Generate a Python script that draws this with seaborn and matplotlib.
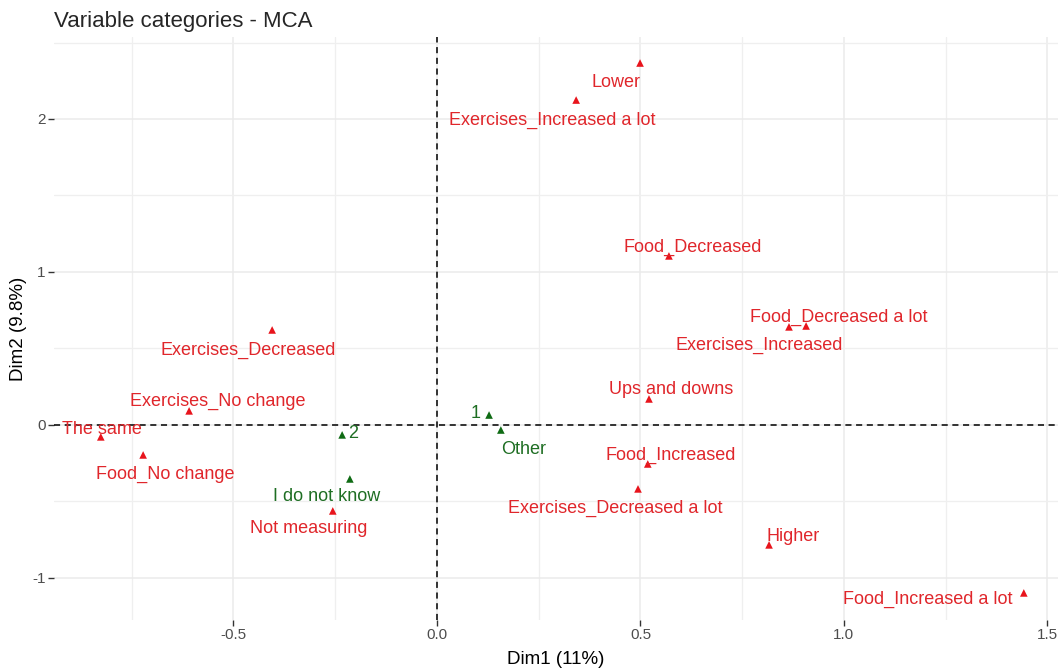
import pandas as pd
import matplotlib.pyplot as plt
import seaborn as sns
from matplotlib.ticker import MultipleLocator

sns.set_theme(style="whitegrid")
plt.rcParams['font.family'] = ['Liberation Sans', 'DejaVu Sans']

# MCA coordinates of the variable categories
labels = ['Lower', 'Exercises_Increased a lot', 'Food_Decreased', 'Food_Decreased a lot',
          'Exercises_Increased', 'Exercises_Decreased', 'Ups and downs', 'Exercises_No change',
          'The same', 'Food_No change', '1', 'Other', '2', 'I do not know', 'Not measuring',
          'Food_Increased', 'Exercises_Decreased a lot', 'Higher', 'Food_Increased a lot']
dim1 = [0.499, 0.342, 0.570, 0.907, 0.865, -0.405, 0.521, -0.609, -0.826, -0.722,
        0.128, 0.157, -0.233, -0.214, -0.256, 0.518, 0.494, 0.816, 1.442]
dim2 = [2.366, 2.124, 1.105, 0.647, 0.641, 0.621, 0.170, 0.092, -0.078, -0.196,
        0.065, -0.033, -0.065, -0.353, -0.562, -0.255, -0.418, -0.784, -1.098]
group = ['a', 'a', 'a', 'a', 'a', 'a', 'a', 'a', 'a', 'a',
         'b', 'b', 'b', 'b', 'a', 'a', 'a', 'a', 'a']

# label offsets in pixels (repel-like placement)
offsets = [(-24, -19), (-24, -20), (24, 9), (33, 9), (-30, -19), (-24, -20), (22, 9),
           (29, 9), (1, 7), (22, -19), (-13, 2), (23, -19), (11, 1), (-23, -18),
           (-24, -18), (23, 9), (-23, -20), (24, 8), (-96, -6)]

df = pd.DataFrame({'label': labels, 'Dim1': dim1, 'Dim2': dim2, 'group': group})
pal = {'a': '#E8141C', 'b': '#0F6B14'}
txt_col = {'a': '#E0262B', 'b': '#1E6E23'}

fig, ax = plt.subplots(figsize=(10.62, 6.70), dpi=100)
fig.subplots_adjust(left=54/1062, right=1058/1062, top=1-37/670, bottom=1-620/670)

ax.axhline(0, color='black', ls=(0, (4, 3)), lw=1.1, zorder=1)
ax.axvline(0, color='black', ls=(0, (4, 3)), lw=1.1, zorder=1)

sns.scatterplot(data=df, x='Dim1', y='Dim2', hue='group', palette=pal, marker='^',
                s=30, edgecolor='none', legend=False, ax=ax, zorder=3)

for _, r in df.iterrows():
    i = labels.index(r['label'])
    ax.annotate(r['label'], (r['Dim1'], r['Dim2']), xytext=offsets[i],
                textcoords='offset pixels', ha='center', va='center',
                fontsize=13, color=txt_col[r['group']], zorder=4)

ax.set_xlim(-0.941, 1.526)
ax.set_ylim(-1.275, 2.536)
ax.xaxis.set_minor_locator(MultipleLocator(0.25))
ax.yaxis.set_minor_locator(MultipleLocator(0.5))
ax.set_xticks([-0.5, 0, 0.5, 1.0, 1.5])
ax.set_xticklabels(['-0.5', '0.0', '0.5', '1.0', '1.5'])
ax.set_yticks([-1, 0, 1, 2])
ax.set_yticklabels(['-1', '0', '1', '2'])
ax.grid(which='major', color='#EBEBEB', lw=1.1)
ax.grid(which='minor', color='#EFEFEF', lw=0.9)
ax.set_facecolor('white')
for s in ax.spines.values():
    s.set_visible(False)
ax.tick_params(axis='both', which='major', length=4, width=1, color='#333333',
               labelsize=11, labelcolor='#4D4D4D', pad=2, bottom=True, left=True)
ax.tick_params(which='minor', length=0)

ax.set_xlabel('Dim1 (11%)', fontsize=13.5, color='black', labelpad=6)
ax.set_ylabel('Dim2 (9.8%)', fontsize=13.5, color='black', labelpad=4)
ax.set_title('Variable categories - MCA', loc='left', fontsize=16, x=0.0, pad=7)

plt.savefig('out.png', dpi=100)
plt.close()
